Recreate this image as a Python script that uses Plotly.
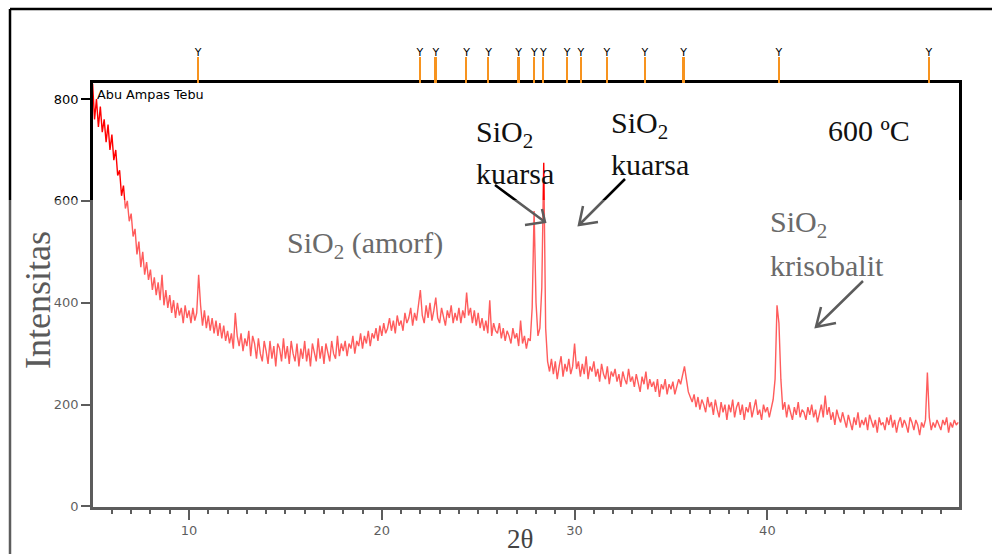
import plotly.graph_objects as go

# ---------------- data ----------------
theta_start = 5.0
theta_step = 0.1
intensity = [
    830, 760, 800, 745, 785, 735, 760, 715, 750, 700,   # 5.0-5.9
    730, 680, 700, 650, 660, 610, 630, 585, 600, 560,   # 6
    575, 530, 545, 495, 520, 470, 500, 455, 480, 445,   # 7
    465, 425, 450, 415, 440, 405, 455, 395, 425, 390,   # 8
    415, 380, 405, 370, 400, 375, 390, 360, 395, 370,   # 9
    385, 360, 390, 365, 380, 455, 395, 355, 385, 350,   # 10
    375, 345, 370, 340, 365, 335, 360, 330, 355, 325,   # 11
    345, 320, 340, 310, 380, 335, 315, 340, 305, 330,   # 12
    315, 345, 295, 335, 320, 290, 330, 300, 285, 325,   # 13
    305, 280, 325, 290, 315, 275, 320, 310, 285, 330,   # 14
    290, 315, 280, 325, 300, 285, 320, 275, 310, 290,   # 15
    325, 285, 310, 275, 320, 305, 285, 330, 290, 315,   # 16
    280, 320, 305, 285, 325, 300, 290, 335, 295, 320,   # 17
    305, 325, 295, 320, 310, 335, 300, 325, 315, 340,   # 18
    310, 335, 320, 345, 315, 340, 330, 350, 325, 355,   # 19
    335, 360, 340, 350, 370, 345, 365, 340, 375, 355,   # 20
    365, 345, 380, 360, 370, 390, 355, 380, 365, 395,   # 21
    425, 375, 360, 395, 370, 400, 365, 385, 410, 370,   # 22
    360, 390, 375, 355, 385, 370, 395, 360, 380, 365,   # 23
    390, 360, 385, 370, 420, 375, 390, 360, 385, 355,   # 24
    380, 350, 370, 345, 365, 340, 405, 335, 360, 345,   # 25
    340, 360, 330, 350, 325, 345, 335, 320, 350, 330,   # 26
    340, 315, 365, 320, 335, 310, 330, 325, 390, 580,   # 27
    400, 335, 350, 430, 675, 350, 285, 265, 290, 260,   # 28
    285, 250, 275, 295, 255, 280, 265, 290, 260, 275,   # 29
    320, 270, 285, 255, 280, 260, 295, 250, 275, 265,   # 30
    285, 255, 270, 245, 280, 260, 250, 275, 240, 265,   # 31
    255, 270, 245, 260, 235, 265, 250, 240, 270, 245,   # 32
    255, 235, 260, 245, 225, 255, 240, 265, 230, 250,   # 33
    235, 245, 225, 250, 215, 240, 230, 250, 220, 240,   # 34
    230, 245, 220, 235, 250, 240, 255, 275, 250, 225,   # 35
    215, 205, 220, 195, 215, 190, 210, 200, 185, 215,   # 36
    195, 205, 180, 210, 190, 175, 205, 185, 200, 170,   # 37
    200, 185, 210, 175, 195, 205, 180, 200, 170, 195,   # 38
    185, 205, 175, 195, 210, 180, 190, 170, 200, 185,   # 39
    195, 175, 190, 210, 250, 395, 360, 250, 190, 205,   # 40
    175, 200, 185, 170, 195, 180, 205, 175, 190, 185,   # 41
    170, 195, 180, 200, 175, 190, 165, 185, 200, 175,   # 42
    218, 180, 195, 170, 185, 160, 190, 175, 165, 185,   # 43
    170, 155, 180, 165, 150, 175, 160, 185, 155, 170,   # 44
    160, 175, 150, 180, 165, 155, 170, 145, 175, 160,   # 45
    165, 150, 175, 160, 180, 155, 170, 145, 165, 175,   # 46
    155, 170, 160, 145, 175, 165, 150, 170, 160, 140,   # 47
    165, 155, 170, 263, 175, 150, 165, 155, 170, 160,   # 48
    150, 170, 160, 175, 145, 165, 155, 170, 160, 165,   # 49
]
theta = [round(theta_start + i * theta_step, 2) for i in range(len(intensity))]

# reference-pattern stick positions (2-theta)
ref_peaks = [10.47, 21.98, 22.80, 24.40, 25.54, 27.10, 27.91, 28.38,
             29.61, 30.33, 31.68, 33.65, 35.66, 40.60, 48.38]

x_ticks = [10, 20, 30, 40]
y_ticks = [0, 200, 400, 600, 800]

sample_label = "Abu Ampas Tebu"
temp_label = "600 ºC"

# ---------------- geometry helpers (pixel -> paper) ----------------
W, H = 992, 554
PL, PR, PT, PB = 93, 959, 40, 507


def px(x):
    return (x - PL) / (PR - PL)


def py(y):
    return (PB - y) / (PB - PT)


main_top = py(83)

fig = go.Figure()

fig.add_trace(go.Scatter(
    x=theta, y=intensity, mode="lines",
    line=dict(color="#ff0000", width=1.4),
    showlegend=False, hoverinfo="skip"))

fig.add_trace(go.Bar(
    x=ref_peaks, y=[0.605] * len(ref_peaks), width=0.09,
    marker=dict(color="#f7931e", line=dict(width=0)),
    xaxis="x2", yaxis="y2", showlegend=False, hoverinfo="skip"))

fig.add_trace(go.Scatter(
    x=ref_peaks, y=[0.69] * len(ref_peaks), mode="text",
    text=["Y"] * len(ref_peaks),
    textfont=dict(family="DejaVu Sans", size=11, color="black"),
    xaxis="x2", yaxis="y2", showlegend=False, hoverinfo="skip"))

axis_font = dict(family="DejaVu Sans", size=13, color="black")

fig.update_layout(
    width=W, height=H,
    margin=dict(l=PL, r=W - PR, t=PT, b=H - PB, pad=0),
    paper_bgcolor="white", plot_bgcolor="white",
    showlegend=False,
    bargap=0,
    xaxis=dict(
        range=[5.02, 49.94], tickvals=x_ticks, ticks="outside", ticklen=10,
        tickwidth=2, tickcolor="black", showline=True, linewidth=2.5,
        linecolor="black", mirror=True, showgrid=False, zeroline=False,
        tickfont=axis_font, anchor="y",
        minor=dict(dtick=1, tick0=0, ticks="outside", ticklen=4,
                   tickwidth=1.5, tickcolor="black", showgrid=False),
    ),
    yaxis=dict(
        domain=[0, main_top], range=[-1, 831.4], tickvals=y_ticks,
        ticks="outside", ticklen=9, tickwidth=2, tickcolor="black",
        showline=True, linewidth=2.5, linecolor="black", mirror=True,
        showgrid=False, zeroline=False, tickfont=axis_font,
    ),
    xaxis2=dict(matches="x", anchor="y2", visible=False),
    yaxis2=dict(domain=[main_top, 1], range=[0, 1], visible=False),
)

# ---------------- frame, arrows, fade overlay (shapes) ----------------
shapes = []
frame_x = px(10)
frame_y = py(9)
shapes.append(dict(type="line", xref="paper", yref="paper",
                   x0=frame_x, y0=py(H + 5), x1=frame_x, y1=frame_y,
                   line=dict(color="black", width=2.5), layer="above"))
shapes.append(dict(type="line", xref="paper", yref="paper",
                   x0=frame_x, y0=frame_y, x1=px(W + 5), y1=frame_y,
                   line=dict(color="black", width=2.5), layer="above"))

arrows = [
    ((495, 185), (545, 222), (525, 225), (542, 209)),
    ((625, 179), (579, 225), (583, 206), (598, 222)),
    ((863, 281), (816, 327), (821, 307), (836, 323)),
]
for tail, tip, a1, a2 in arrows:
    path = (f"M{px(tail[0])},{py(tail[1])} L{px(tip[0])},{py(tip[1])} "
            f"M{px(a1[0])},{py(a1[1])} L{px(tip[0])},{py(tip[1])} "
            f"L{px(a2[0])},{py(a2[1])}")
    shapes.append(dict(type="path", xref="paper", yref="paper", path=path,
                       line=dict(color="black", width=2.5), layer="above"))

# faded lower part of the scanned page
shapes.append(dict(type="rect", xref="paper", yref="paper",
                   x0=px(-5), x1=px(W + 5), y0=py(H + 5), y1=py(200),
                   fillcolor="rgba(255,255,255,0.36)", line=dict(width=0),
                   layer="above"))
fig.update_layout(shapes=shapes)

# ---------------- text ----------------
serif = "Liberation Serif, Times New Roman, serif"


def add_text(text, x, y, size, color, xanchor="left", yanchor="middle",
             family=serif, angle=0):
    fig.add_annotation(text=text, xref="paper", yref="paper", x=px(x),
                       y=py(y), xanchor=xanchor, yanchor=yanchor,
                       showarrow=False, textangle=angle,
                       font=dict(family=family, size=size, color=color))


add_text(sample_label, 95, 94, 12.8, "black", family="DejaVu Sans")
add_text("SiO<sub>2</sub>", 474, 134, 30, "#111111")
add_text("kuarsa", 474, 173, 30, "#111111")
add_text("SiO<sub>2</sub>", 609, 125, 30, "#111111")
add_text("kuarsa", 609, 164, 30, "#111111")
add_text(temp_label, 826, 130, 30, "#111111")
add_text("SiO<sub>2</sub> (amorf)", 285, 245, 30, "#6a6a6a")
add_text("SiO<sub>2</sub>", 768, 224, 30, "#6a6a6a")
add_text("krisobalit", 768, 265, 30, "#6a6a6a")
add_text("Intensitas", 38, 300, 36, "#5a5a5a", xanchor="center", angle=-90)
add_text("2θ", 520, 539, 27, "#444444", xanchor="center")

fig.write_html("out.html")
